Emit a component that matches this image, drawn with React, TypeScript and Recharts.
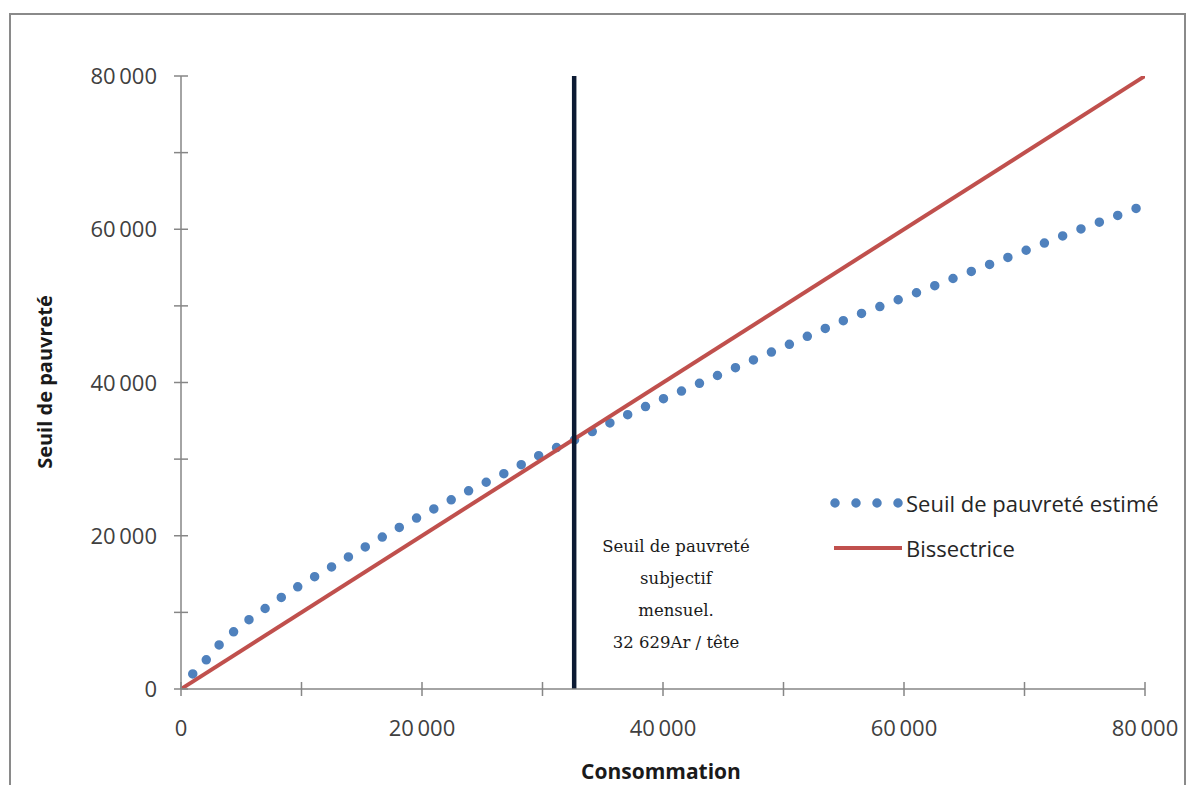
import React from 'react';
import { LineChart, Line, XAxis, YAxis, ReferenceLine } from 'recharts';

// ---- data ----
const estimatedX = [975, 2140, 3190, 4420, 5690, 7060, 8440, 9810, 12520, 15320, 18220, 21020, 23920, 26920, 29980, 32970, 35970, 38920, 42000, 46440, 50000, 55580, 60110, 64690, 69280, 73890, 78500, 80000];
const estimatedY = [1960, 3880, 5790, 7540, 9110, 10590, 12070, 13460, 15950, 18560, 21170, 23530, 25900, 28200, 30680, 32720, 35000, 37120, 39200, 42220, 44650, 48460, 51150, 53950, 56730, 59570, 62260, 63160];
const bisectorX = [0, 80000];
const bisectorY = [0, 80000];
const xTicks = [0, 10000, 20000, 30000, 40000, 50000, 60000, 70000, 80000];
const yTicks = [0, 10000, 20000, 30000, 40000, 50000, 60000, 70000, 80000];
const labeledTicks = [0, 20000, 40000, 60000, 80000];
const subjectiveThreshold = 32629;
const annotationLines = ['Seuil de pauvreté', 'subjectif', 'mensuel.', '32 629Ar / tête'];
const seriesNames = ['Seuil de pauvreté estimé', 'Bissectrice'];
const xTitle = 'Consommation';
const yTitle = 'Seuil de pauvreté';

const estimatedData = estimatedX.map((x, i) => ({ x, y: estimatedY[i] }));
const bisectorData = bisectorX.map((x, i) => ({ x, y: bisectorY[i] }));

const fmt = (v: number) => (v === 0 ? '0' : `${Math.round(v / 1000)}\u2009000`);

const AXIS = '#868686';
const LABEL = '#404040';
const BLUE = '#4f81bd';
const RED = '#c0504d';
const FONT = '"Open Sans", "Noto Sans", sans-serif';

const YTick = (props: any) => {
  const { x, y, payload } = props;
  const v = payload.value;
  return (
    <g>
      <line x1={x - 7} x2={x + 7} y1={y} y2={y} stroke={AXIS} strokeWidth={1.5} />
      {labeledTicks.includes(v) && (
        <text x={x - 24} y={y + 8} textAnchor="end" fontSize={22} fill={LABEL} fontFamily={FONT}>
          {fmt(v)}
        </text>
      )}
    </g>
  );
};

const XTick = (props: any) => {
  const { x, y, payload } = props;
  const v = payload.value;
  return (
    <g>
      <line x1={x} x2={x} y1={y - 7} y2={y + 7} stroke={AXIS} strokeWidth={1.5} />
      {labeledTicks.includes(v) && (
        <text x={x} y={y + 47} textAnchor="middle" fontSize={22} fill={LABEL} fontFamily={FONT}>
          {fmt(v)}
        </text>
      )}
    </g>
  );
};

const LegendBox = () => (
  <div style={{ position: 'absolute', left: 826, top: 480, fontFamily: FONT, fontSize: 22, color: '#262626' }}>
    <div style={{ display: 'flex', alignItems: 'center', height: 45 }}>
      <svg width={80} height={20}>
        <line x1={9} x2={73} y1={10} y2={10} stroke={BLUE} strokeWidth={9.5} strokeLinecap="round" strokeDasharray="0 21" />
      </svg>
      <span>{seriesNames[0]}</span>
    </div>
    <div style={{ display: 'flex', alignItems: 'center', height: 45 }}>
      <svg width={80} height={20}>
        <line x1={8} x2={76} y1={10} y2={10} stroke={RED} strokeWidth={4} />
      </svg>
      <span>{seriesNames[1]}</span>
    </div>
  </div>
);

export default function App() {
  return (
    <div style={{ position: 'relative', width: 1192, height: 785, overflow: 'hidden', background: '#fff' }}>
      <style>{'body{margin:0;}'}</style>
      <div
        style={{
          position: 'absolute',
          left: 9,
          top: 13,
          width: 1177,
          height: 800,
          border: '2px solid #8a8a8a',
          boxSizing: 'border-box',
        }}
      />
      <div style={{ position: 'absolute', left: 0, top: 0 }}>
        <LineChart width={1192} height={785} margin={{ top: 76, right: 47, bottom: 0, left: 0 }}>
          <XAxis
            dataKey="x"
            type="number"
            domain={[0, 80000]}
            ticks={xTicks}
            interval={0}
            tickSize={0}
            tickMargin={0}
            tickLine={false}
            tick={<XTick />}
            axisLine={{ stroke: AXIS, strokeWidth: 1.5 }}
            height={96}
            allowDataOverflow
          />
          <YAxis
            type="number"
            domain={[0, 80000]}
            ticks={yTicks}
            interval={0}
            tickSize={0}
            tickMargin={0}
            tickLine={false}
            tick={<YTick />}
            axisLine={{ stroke: AXIS, strokeWidth: 1.5 }}
            width={181}
            allowDataOverflow
          />
          <Line
            data={estimatedData}
            dataKey="y"
            name={seriesNames[0]}
            type="monotone"
            stroke={BLUE}
            strokeWidth={9.5}
            strokeLinecap="round"
            strokeDasharray="0 19.6"
            dot={false}
            activeDot={false}
            isAnimationActive={false}
          />
          <Line
            data={bisectorData}
            dataKey="y"
            name={seriesNames[1]}
            type="linear"
            stroke={RED}
            strokeWidth={4}
            dot={false}
            activeDot={false}
            isAnimationActive={false}
          />
          <ReferenceLine x={subjectiveThreshold} stroke="#0c1a33" strokeWidth={4.5} />
        </LineChart>
      </div>
      <LegendBox />
      <div
        style={{
          position: 'absolute',
          left: 576,
          top: 531,
          width: 200,
          textAlign: 'center',
          fontFamily: '"DejaVu Serif", serif',
          fontSize: 16.5,
          lineHeight: '32px',
          color: '#1a1a1a',
        }}
      >
        {annotationLines.map((l, i) => (
          <div key={i}>{l}</div>
        ))}
      </div>
      <div
        style={{
          position: 'absolute',
          left: 561,
          top: 757,
          width: 200,
          textAlign: 'center',
          fontFamily: FONT,
          fontWeight: 700,
          fontSize: 21,
          color: '#1a1a1a',
        }}
      >
        {xTitle}
      </div>
      <div
        style={{
          position: 'absolute',
          left: 45 - 120,
          top: 382 - 14,
          width: 240,
          textAlign: 'center',
          fontFamily: FONT,
          fontWeight: 700,
          fontSize: 20,
          color: '#1a1a1a',
          transform: 'rotate(-90deg)',
          lineHeight: '28px',
        }}
      >
        {yTitle}
      </div>
    </div>
  );
}
